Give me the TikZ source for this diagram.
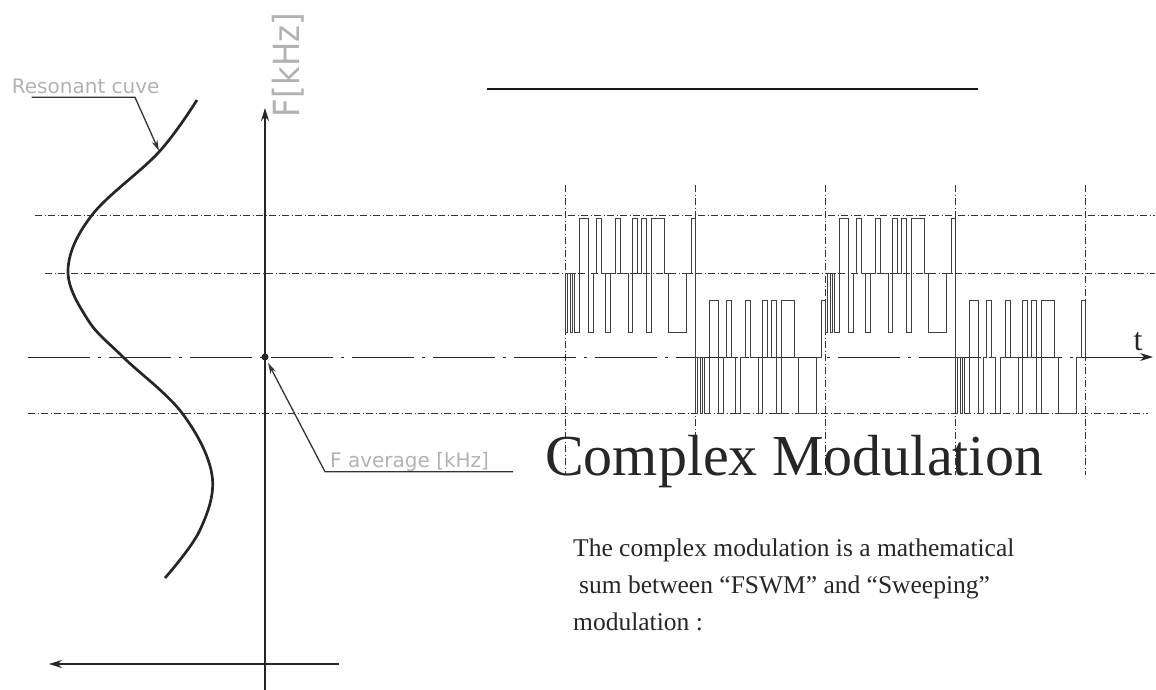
\documentclass[tikz,border=0pt]{standalone}
\usepackage{fontspec}
\setmainfont{Liberation Serif}
\newfontfamily\isofont{DejaVu Sans}
\usetikzlibrary{arrows.meta}
\tikzset{
  axisline/.style={line width=1.8pt,draw=black!85},
  curveline/.style={line width=2.7pt,draw=black!85},
  gridline/.style={line width=0.6pt,draw=black!80,dash pattern=on 7pt off 2.5pt on 1pt off 2.5pt},
  centerline/.style={line width=0.9pt,draw=black!85,dash pattern=on 62pt off 8pt on 3pt off 8pt},
  pulse/.style={line width=1pt,draw=black!75},
  leader/.style={line width=1.3pt,draw=black!80},
  isolabel/.style={text=black!30,font=\isofont\fontsize{20}{22}\selectfont,inner sep=0pt,anchor=base west},
  bigtip/.style={-{Stealth[length=13pt,width=8pt]}},
  smalltip/.style={-{Stealth[length=11pt,width=6pt]}}
}
\begin{document}
\begin{tikzpicture}[x=1pt,y=-1pt]
	\useasboundingbox (0,0) rectangle (1156,690);
	% level lines
	\draw[gridline] (35,215) -- (1155,215);
	\draw[gridline] (45,273) -- (1155,273);
	\draw[gridline] (28,413) -- (1148,413);
	\foreach \xv in {565,695,825,955,1085}
		\draw[gridline] (\xv,185) -- (\xv,475);
	\coordinate (tstart) at (28,357);
	\coordinate (tmid) at (1133,357);
	\coordinate (tend) at (1153,357);
	\draw[centerline] (tstart) -- (tmid);
	\draw[line width=0.9pt,black!85,bigtip] (tmid) -- (tend);
	\node[font=\fontsize{32}{32}\selectfont,text=black!85,anchor=base] (tlabel) at (1138,350) {t};
	% signal
	\foreach \xo/\ys/\ye/\yh/\ym/\yl in {565/273/218/218/273/332,695/218/300/300/357/413,825/300/218/218/273/332,955/218/357/300/357/413}{
		\draw[pulse] (\xo,\ys) \foreach \dx/\lv in {0/\yl,2.3/\ym,5/\yl,7/\ym,9.7/\yl,14.3/\yh,23.5/\yl,28/\ym,31.7/\yh,36.7/\ym,40/\yl,45/\ym,50/\yh,55/\ym,63.3/\yl,67.7/\yh,72.7/\ym,76.7/\yh,81.7/\yl,86/\yh,99.3/\ym,103.3/\yl,121.7/\ym,126/\yh}{ -| (\xo+\dx,\lv) } -| (\xo+130,\ye);
	}
	% frequency axes
	\coordinate (Fbot) at (265,690);
	\coordinate (Ftop) at (265,108);
	\coordinate (Hright) at (339,664);
	\coordinate (Hleft) at (49,664);
	\draw[axisline,bigtip] (Fbot) -- (Ftop);
	\draw[axisline,bigtip] (Hright) -- (Hleft);
	\node[rotate=90,text=black!30,font=\isofont\fontsize{36}{36}\selectfont,inner sep=0pt] (Flabel) at (288,65) {\scalebox{0.9}[1]{F[kHz]}};
	% resonant curve
	\draw[curveline] plot[smooth,tension=0.6] coordinates {(197,100) (159,152) (92,215) (68,270) (88,320) (123,357) (182,413) (212,475) (200,530) (165,578)};
	\node[isolabel] (reslabel) at (11.7,94) {Resonant cuve};
	\coordinate (resfoot) at (31.7,97.3);
	\coordinate (resknee) at (135,97.3);
	\coordinate (restip) at (159,151);
	\draw[leader,smalltip] (resfoot) -- (resknee) -- (restip);
	% average
	\node[circle,fill=black!85,inner sep=0pt,minimum size=7pt] (favg) at (265,357) {};
	\node[isolabel] (avglabel) at (330,467.3) {F average [kHz]};
	\coordinate (avgfoot) at (513,471.7);
	\coordinate (avgknee) at (325,471.7);
	\draw[leader,smalltip,shorten >=3pt] (avgfoot) -- (avgknee) -- (favg);
	% top bar
	\coordinate (barL) at (487,89);
	\coordinate (barR) at (978,89);
	\draw[line width=2.6pt,black!90] (barL) -- (barR);
	% texts
	\node[anchor=base west,inner sep=0pt,font=\fontsize{58}{60}\selectfont,text=black!85] (title) at (545,475) {Complex Modulation};
	\node[anchor=base west,inner sep=0pt,font=\fontsize{25.5}{30}\selectfont,text=black!85] (para1) at (573,556) {The complex modulation is a mathematical};
	\node[anchor=base west,inner sep=0pt,font=\fontsize{25.5}{30}\selectfont,text=black!85] (para2) at (579,593) {sum between ``FSWM'' and ``Sweeping''};
	\node[anchor=base west,inner sep=0pt,font=\fontsize{25.5}{30}\selectfont,text=black!85] (para3) at (573,630) {modulation :};
\end{tikzpicture}
\end{document}
